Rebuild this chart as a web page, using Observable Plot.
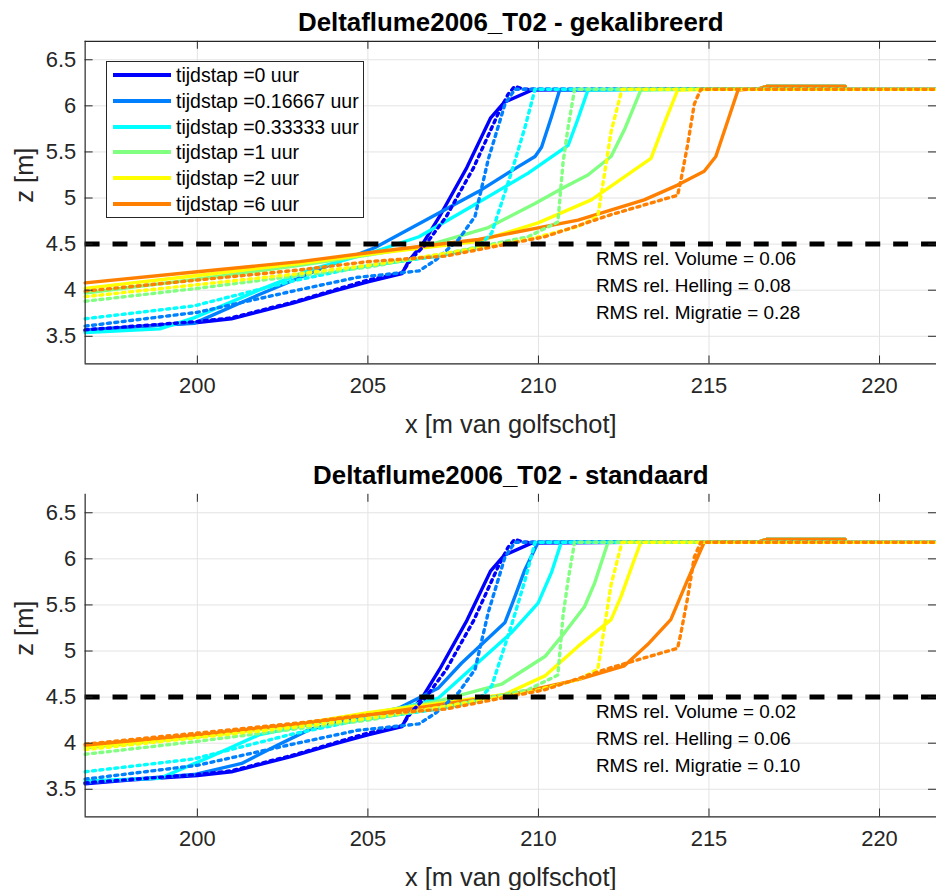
<!DOCTYPE html>
<html>
<head>
<meta charset="utf-8">
<script src="https://cdn.jsdelivr.net/npm/d3@7"></script>
<script src="https://cdn.jsdelivr.net/npm/@observablehq/plot@0.6"></script>
<style>
  html, body { margin: 0; padding: 0; background: #fff; overflow: hidden; }
  #wrap { position: relative; width: 936px; height: 890px; overflow: hidden; background: #fff;
          font-family: "Liberation Sans", Arial, Helvetica, sans-serif; }
  .panel { position: absolute; left: 0; }
  #legend { position: absolute; left: 106px; top: 61px; width: 256px; height: 155px;
            border: 1px solid #262626; background: #fff; }
  .lrow { position: absolute; left: 0; height: 26px; width: 256px; }
  .lsw { position: absolute; left: 6px; top: 11px; width: 58px; height: 4px; }
  .ltx { position: absolute; left: 69px; top: 0; line-height: 26px; font-size: 19.5px; color: #000; white-space: nowrap; }
</style>
</head>
<body>
<div id="wrap">
  <div id="p1" class="panel" style="top:0px"></div>
  <div id="p2" class="panel" style="top:453px"></div>
  <div id="legend"></div>
</div>
<script>
// ---------------- DATA ----------------
const steps = ["0", "0.16667", "0.33333", "1", "2", "6"];
const xTicks = [200, 205, 210, 215, 220];
const yTicks = [3.5, 4, 4.5, 5, 5.5, 6, 6.5];
const xDomain = [196.71, 221.67];
const yDomain = [3.2, 6.7];
const refLevel = [4.5];

const rmsNames = ["Volume", "Helling", "Migratie"];
const rmsCal = ["0.06", "0.08", "0.28"];
const rmsStd = ["0.02", "0.06", "0.10"];

// measured profiles (dotted), [x, z]
const meas_0 = [[196.71,3.57],[200.0,3.66],[201.0,3.70],[202.8,3.87],[205.0,4.11],[206.0,4.19],[206.3,4.35],[206.7,4.50],[207.3,4.80],[208.1,5.33],[208.8,5.90],[209.1,6.12],[209.3,6.21],[209.6,6.18],[221.67,6.18]];
const meas_016 = [[196.71,3.61],[200.0,3.76],[202.8,3.99],[204.7,4.14],[205.5,4.17],[206.5,4.21],[207.0,4.33],[207.66,4.55],[208.14,4.80],[208.53,5.42],[209.02,6.02],[209.31,6.18],[221.67,6.18]];
const meas_033 = [[196.71,3.69],[199.9,3.83],[202.8,4.10],[204.74,4.25],[207.07,4.37],[208.2,4.46],[208.63,4.62],[209.21,5.28],[209.6,5.76],[209.9,6.18],[221.67,6.18]];
const meas_1 = [[196.71,3.88],[200.0,4.02],[203.0,4.16],[205.0,4.25],[207.3,4.40],[209.7,4.58],[210.57,4.74],[210.72,5.38],[210.87,5.77],[211.06,6.18],[221.67,6.18]];
const meas_2 = [[196.71,3.93],[200.0,4.06],[203.0,4.18],[205.0,4.27],[207.3,4.40],[209.7,4.55],[211.16,4.69],[211.74,4.80],[211.94,5.27],[212.13,5.72],[212.45,6.18],[221.67,6.18]];
const meas_6 = [[196.71,3.99],[200.0,4.11],[203.0,4.22],[205.0,4.31],[207.27,4.37],[210.19,4.58],[212.13,4.82],[214.08,5.03],[214.18,5.20],[214.37,5.57],[214.57,6.02],[214.76,6.18],[221.67,6.18]];

// model, gekalibreerd (solid)
const cal_0 = [[196.71,3.56],[198.0,3.60],[200.0,3.65],[201.0,3.69],[202.8,3.86],[204.0,3.99],[205.0,4.09],[206.0,4.18],[206.2,4.32],[206.6,4.50],[207.1,4.80],[207.9,5.33],[208.6,5.87],[209.0,6.04],[209.8,6.17],[216.5,6.19],[216.7,6.21],[219.0,6.21]];
const cal_016 = [[196.71,3.57],[198.0,3.60],[199.9,3.64],[201.8,3.95],[203.8,4.26],[205.2,4.46],[207.0,4.82],[208.24,5.07],[209.41,5.34],[209.9,5.45],[210.09,5.55],[210.38,5.88],[210.62,6.17],[216.5,6.19],[216.7,6.21],[219.0,6.21]];
const cal_033 = [[196.71,3.54],[198.9,3.58],[199.9,3.70],[201.8,4.00],[203.3,4.22],[205.2,4.42],[206.5,4.58],[208.0,4.90],[209.7,5.27],[210.87,5.57],[211.16,5.86],[211.45,6.17],[216.5,6.19],[216.7,6.21],[219.0,6.21]];
const cal_1 = [[196.71,3.97],[200.0,4.12],[203.0,4.27],[205.0,4.38],[206.78,4.49],[208.53,4.68],[209.9,4.94],[210.77,5.12],[211.45,5.25],[212.13,5.45],[212.52,5.74],[213.0,6.17],[216.5,6.19],[216.7,6.21],[219.0,6.21]];
const cal_2 = [[196.71,4.02],[200.0,4.16],[203.0,4.29],[205.0,4.39],[208.24,4.53],[209.99,4.73],[211.55,4.98],[213.3,5.43],[213.69,5.81],[214.08,6.17],[216.5,6.19],[216.7,6.21],[219.0,6.21]];
const cal_6 = [[196.71,4.08],[200.0,4.20],[203.0,4.31],[205.3,4.42],[208.24,4.55],[211.16,4.76],[213.1,4.98],[214.08,5.14],[214.86,5.29],[215.2,5.45],[215.85,6.17],[216.5,6.19],[216.7,6.21],[219.0,6.21]];

// model, standaard (solid)
const std_0 = cal_0;
const std_016 = [[196.71,3.57],[199.9,3.66],[201.3,3.78],[202.3,3.97],[203.3,4.15],[204.7,4.28],[205.9,4.38],[207.07,4.60],[207.75,4.87],[209.02,5.31],[209.31,5.59],[209.6,5.88],[209.99,6.18],[216.5,6.19],[216.7,6.21],[219.0,6.21]];
const std_033 = [[196.71,3.59],[198.9,3.62],[200.3,3.84],[201.8,4.09],[203.77,4.24],[205.71,4.35],[207.07,4.49],[208.0,4.80],[209.21,5.20],[209.99,5.52],[210.38,5.85],[210.67,6.18],[216.5,6.19],[216.7,6.21],[219.0,6.21]];
const std_1 = [[196.71,3.95],[200.0,4.07],[203.0,4.20],[205.0,4.32],[207.0,4.45],[208.92,4.64],[210.19,4.94],[210.77,5.20],[211.35,5.48],[211.65,5.74],[212.04,6.18],[216.5,6.19],[216.7,6.21],[219.0,6.21]];
const std_2 = [[196.71,3.96],[200.0,4.08],[203.0,4.21],[205.0,4.33],[207.0,4.43],[209.02,4.53],[210.19,4.73],[211.16,5.05],[212.13,5.34],[212.42,5.59],[212.81,5.99],[213.0,6.18],[216.5,6.19],[216.7,6.21],[219.0,6.21]];
const std_6 = [[196.71,3.98],[200.0,4.09],[203.0,4.21],[205.3,4.32],[207.3,4.43],[209.21,4.53],[211.16,4.69],[212.52,4.84],[213.2,5.07],[213.88,5.34],[214.37,5.77],[214.86,6.18],[216.5,6.19],[216.7,6.21],[219.0,6.21]];

const measured = [meas_0, meas_016, meas_033, meas_1, meas_2, meas_6];
const modelCal = [cal_0, cal_016, cal_033, cal_1, cal_2, cal_6];
const modelStd = [std_0, std_016, std_033, std_1, std_2, std_6];

// ---------------- STYLE ----------------
const palette = ["#0000ff", "#0080ff", "#00ffff", "#80ff80", "#ffff00", "#ff8000"];
const W = 940, ML = 85, MT = 41, FH = 324, FW = W - ML;
const FONT = "'Liberation Sans', Arial, Helvetica, sans-serif";

function toRows(seriesList) {
  return seriesList.flatMap((s, i) => s.map(([x, z]) => ({x, z, step: steps[i]})));
}

function panel(title, model, rmsVals, height, topLine) {
  const rmsText = rmsNames.map((n, i) => `RMS rel. ${n} = ${rmsVals[i]}`).join("\n");
  const marks = [
    Plot.gridX(xTicks, {stroke: "#e3e3e3", strokeOpacity: 1}),
    Plot.gridY(yTicks, {stroke: "#e3e3e3", strokeOpacity: 1}),
    Plot.line(toRows(model), {x: "x", y: "z", z: "step", stroke: "step", strokeWidth: 3.4, strokeLinejoin: "round"}),
    Plot.line(toRows(measured), {x: "x", y: "z", z: "step", stroke: "step", strokeWidth: 3.4, strokeDasharray: "3,4.5"}),
    Plot.ruleY(refLevel, {stroke: "black", strokeWidth: 5, strokeDasharray: "15,13"}),
    Plot.ruleX([xDomain[0]], {stroke: "#262626", strokeWidth: 1.2}),
    Plot.ruleY([yDomain[0]], {stroke: "#262626", strokeWidth: 1.2}),
    Plot.tickX(xTicks, {x: d => d, insetTop: FH - 8, stroke: "#262626"}),
    Plot.tickX(xTicks, {x: d => d, insetBottom: FH - 8, stroke: "#262626"}),
    Plot.tickY(yTicks, {y: d => d, insetRight: FW - 8, stroke: "#262626"}),
    Plot.tickY(yTicks, {y: d => d, insetLeft: FW - 8, stroke: "#262626"}),
    Plot.axisX({ticks: xTicks, tickSize: 0, tickPadding: 14, tickFormat: d => String(d), label: null, fontSize: 22}),
    Plot.axisY({ticks: yTicks, tickSize: 0, tickPadding: 9, tickFormat: d => String(d), label: null, fontSize: 22}),
    Plot.text([rmsText], {frameAnchor: "top-left", dx: 513, dy: 243, textAnchor: "start", lineAnchor: "middle",
      lineHeight: 1.42, fontSize: 19, fill: "black"}),
    Plot.text([title], {frameAnchor: "top", dy: -19, lineAnchor: "middle", fontSize: 26, fontWeight: "bold", fill: "black"}),
    Plot.text(["x [m van golfschot]"], {frameAnchor: "bottom", dy: 61, lineAnchor: "middle", fontSize: 25.5, fill: "#262626"}),
    Plot.text(["z [m]"], {frameAnchor: "left", dx: -61, rotate: -90, lineAnchor: "middle", fontSize: 25.5, fill: "#262626"})
  ];
  if (topLine) marks.push(Plot.ruleY([yDomain[1]], {stroke: "#262626", strokeWidth: 1.2}));
  return Plot.plot({
    width: W, height,
    marginLeft: ML, marginRight: 0, marginTop: MT, marginBottom: height - MT - FH,
    x: {domain: xDomain},
    y: {domain: yDomain},
    color: {domain: steps, range: palette},
    style: {fontFamily: FONT, fontSize: "22px", color: "#262626", background: "transparent", overflow: "visible"},
    marks
  });
}

document.getElementById("p1").append(panel("Deltaflume2006_T02 - gekalibreerd", modelCal, rmsCal, 453, true));
document.getElementById("p2").append(panel("Deltaflume2006_T02 - standaard", modelStd, rmsStd, 437, false));

// legend
const leg = document.getElementById("legend");
steps.forEach((s, i) => {
  const row = document.createElement("div");
  row.className = "lrow";
  row.style.top = (i * 25.8) + "px";
  const sw = document.createElement("div");
  sw.className = "lsw";
  sw.style.background = palette[i];
  const tx = document.createElement("div");
  tx.className = "ltx";
  tx.textContent = `tijdstap =${s} uur`;
  row.append(sw, tx);
  leg.append(row);
});
</script>
</body>
</html>
